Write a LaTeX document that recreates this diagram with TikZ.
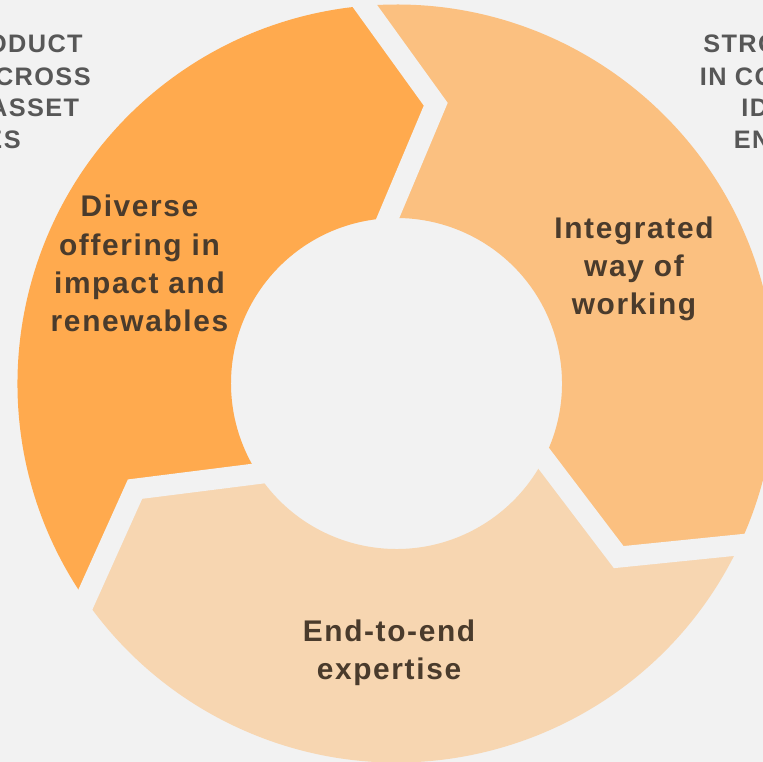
\documentclass[tikz,border=0pt]{standalone}
\usepackage{fontspec}
\setmainfont{Liberation Sans}
\newfontfamily\lblfont[LetterSpace=5.5]{Liberation Sans}
\usetikzlibrary{calc}
\definecolor{cBg}{HTML}{F2F2F2}
\definecolor{cSegA}{HTML}{FFAA4E}
\definecolor{cSegB}{HTML}{FBC080}
\definecolor{cSegC}{HTML}{F7D6B1}
\definecolor{cTxt}{HTML}{4A3B2C}
\definecolor{cSide}{HTML}{575757}

\begin{document}
\begin{tikzpicture}[
    x=1cm, y=1cm,
    gap/.style={draw=cBg, line width=0.42cm, line join=miter},
    lbl/.style={font={\lblfont\bfseries\fontsize{17}{21.7}\selectfont},
                text=cTxt, align=center, inner sep=0pt},
    side/.style={font={\lblfont\bfseries\fontsize{14.4}{18}\selectfont},
                 text=cSide, inner sep=0pt},
]
\def\Ri{3.31}
\def\Ro{7.58}
\def\Rt{5.64}

% ===================== Fondo =====================
\useasboundingbox (-7.93,-7.57) rectangle (7.33,7.67);
\fill[cBg] (-7.93,-7.57) rectangle (7.33,7.67);
\clip (-7.93,-7.57) rectangle (7.33,7.67);

% ===================== Anillo de tres flechas =====================
\foreach \s/\e/\col in {213/93/cSegA, 93/-27/cSegB, -27/-147/cSegC}
  \fill[fill=\col] ({\s+1.8}:\Ro)
      arc[start angle=\s+1.8, end angle=\e+1.8, radius=\Ro]
      -- ({\e-11}:\Rt) -- (\e:\Ri)
      arc[start angle=\e, end angle=\s, radius=\Ri]
      -- ({\s-11}:\Rt) -- cycle;

% separacion entre flechas
\foreach \b in {93,-27,-147}
  \draw[gap] ($({\b-11}:\Rt)!1.3!(\b:\Ri)$) -- ({\b-11}:\Rt)
      -- ($({\b-11}:\Rt)!1.3!({\b+1.8}:\Ro)$);

% ===================== Textos de las flechas =====================
\node[lbl] (diverse) at (-5.14,2.40) {Diverse\\offering in\\impact and\\renewables};
\node[lbl] (integrated) at (4.75,2.29) {Integrated\\way of\\working};
\node[lbl] (expertise) at (-0.15,-5.38) {End-to-end\\expertise};

% ===================== Textos laterales =====================
\node[side, anchor=east] (lft1) at (-6.27,6.79) {ODUCT};
\node[side, anchor=east] (lft2) at (-6.11,6.14) {CROSS};
\node[side, anchor=east] (lft3) at (-6.34,5.51) {ASSET};
\node[side, anchor=east] (lft4) at (-7.51,4.87) {ES};

\node[side, anchor=west] (rgt1) at (6.13,6.79) {STRO};
\node[side, anchor=west] (rgt2) at (6.06,6.14) {IN CO};
\node[side, anchor=west] (rgt3) at (6.89,5.51) {ID};
\node[side, anchor=west] (rgt4) at (6.74,4.87) {EN};

\end{tikzpicture}
\end{document}
